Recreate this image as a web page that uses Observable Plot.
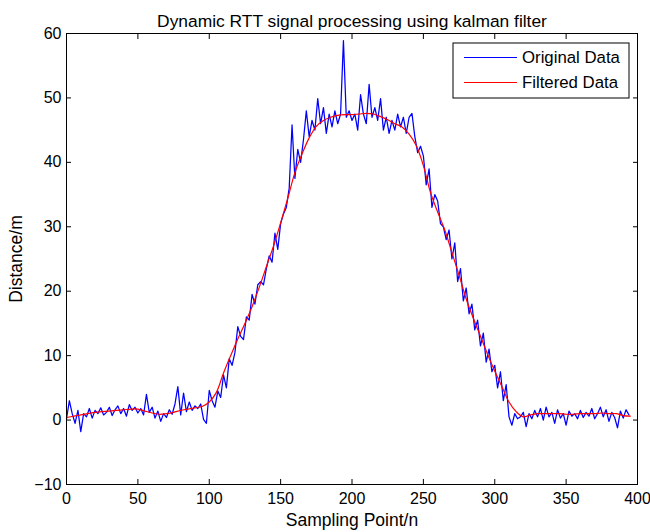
<!DOCTYPE html>
<html>
<head>
<meta charset="utf-8">
<script src="https://cdn.jsdelivr.net/npm/d3@7"></script>
<script src="https://cdn.jsdelivr.net/npm/@observablehq/plot@0.6"></script>
<style>
  html, body { margin: 0; padding: 0; background: #fff; }
  #chart { position: relative; width: 650px; height: 532px; }
  svg { font-family: "Liberation Sans", Arial, Helvetica, sans-serif; }
</style>
</head>
<body>
<div id="chart"></div>
<script>
// ---- Data ----
const title = "Dynamic RTT signal processing using kalman filter";
const xLabel = "Sampling Point/n";
const yLabel = "Distance/m";
const seriesNames = ["Original Data", "Filtered Data"];
const xTicks = [0, 50, 100, 150, 200, 250, 300, 350, 400];
const yTicks = [-10, 0, 10, 20, 30, 40, 50, 60];

// Original (noisy) samples, one value every 2 sampling points starting at 0
const originalStart = 0, originalStep = 2;
const originalValues = [
  0.2, 3.0, 1.0, -0.5, 1.5, -1.8, 1.0, 0.5, 1.8, 0.3,
  1.5, 1.0, 1.9, 0.8, 1.2, 2.0, 0.7, 1.6, 2.2, 1.0,
  1.8, 0.6, 2.4, 1.5, 2.0, 1.1, 1.8, 0.8, 4.0, 1.2,
  2.0, 0.3, 1.4, -0.2, 1.0, 0.4, 1.6, 0.9, 2.5, 5.2,
  0.8, 4.2, 1.3, 2.8, 1.5, 2.2, 1.8, 2.5, 0.1, -0.5,
  4.6, 3.0, 2.0, 4.5, 3.5, 7.0, 5.0, 9.5, 8.5, 10.5,
  14.5, 13.0, 12.5, 16.0, 15.5, 19.5, 18.0, 21.0, 21.5, 21.0,
  23.5, 25.5, 24.5, 29.0, 26.5, 30.5, 32.0, 33.0, 36.0, 45.8,
  37.5, 42.0, 40.0, 43.5, 48.0, 44.0, 46.5, 45.0, 49.9, 46.0,
  48.5, 44.5, 47.5, 45.5, 48.0, 46.0, 47.5, 58.9, 47.0, 48.0,
  46.5, 47.5, 45.0, 50.5, 47.5, 46.0, 52.1, 47.0, 48.5, 46.5,
  49.9, 45.0, 47.0, 44.5, 46.5, 45.0, 47.5, 45.5, 47.0, 44.5,
  47.0, 47.6, 44.0, 41.5, 42.5, 41.0, 36.5, 39.0, 33.0, 35.0,
  34.0, 30.5, 30.0, 28.0, 29.5, 25.0, 27.5, 21.5, 23.5, 18.5,
  20.5, 16.5, 18.0, 14.0, 15.5, 11.5, 13.5, 9.0, 11.0, 7.5,
  8.5, 5.0, 7.5, 3.0, 5.5, 0.5, -0.8, 1.0, 0.2, 0.5,
  1.2, -1.0, 1.0, 0.2, 1.5, 0.5, 1.8, 0.0, 2.0, 0.5,
  1.2, -0.5, 1.6, 0.3, 1.0, -0.8, 1.4, 0.6, 1.0, 0.2,
  1.5, 0.4, 1.2, 0.6, 1.8, 0.2, 1.0, 2.0, 0.5, 1.6,
  -0.2, 1.2, 0.4, -1.2, 1.4, 0.3, 1.6, 0.8
];

// Kalman-filtered curve, one value every 5 sampling points starting at 0
const filteredStart = 0, filteredStep = 5;
const filteredValues = [
  0.4, 0.6, 0.8, 1.0, 1.2, 1.3, 1.4, 1.5, 1.6, 1.7,
  1.7, 1.4, 1.1, 0.9, 1.0, 1.2, 1.5, 1.7, 1.9, 2.1,
  2.8, 4.3, 7.3, 10.0, 12.6, 15.0, 17.6, 20.6, 23.8, 27.0,
  30.6, 34.4, 38.4, 41.3, 43.8, 45.6, 46.5, 47.0, 47.3, 47.4,
  47.4, 47.5, 47.6, 47.5, 47.1, 46.6, 46.0, 45.5, 44.4, 42.6,
  39.5, 35.3, 32.3, 29.5, 26.0, 22.5, 18.8, 15.8, 13.0, 10.2,
  7.6, 5.2, 2.8, 1.3, 0.5, 0.8, 1.0, 1.0, 1.0, 1.0,
  0.9, 0.9, 1.0, 1.0, 1.0, 1.1, 1.0, 1.0, 0.7, 0.6
];
const seriesColors = ["#0000ff", "#ff0000"];

// ---- Build tables ----
const original = originalValues.map((v, i) => ({x: originalStart + i * originalStep, y: v}));
const filtered = filteredValues.map((v, i) => ({x: filteredStart + i * filteredStep, y: v}));

const font = '"Liberation Sans", Arial, Helvetica, sans-serif';

const chart = Plot.plot({
  width: 650,
  height: 532,
  marginLeft: 66,
  marginRight: 13,
  marginTop: 33,
  marginBottom: 48,
  style: {fontFamily: font, fontSize: "16px", color: "#000", background: "#fff"},
  x: {domain: [0, 400], label: null},
  y: {domain: [-10, 60], label: null},
  marks: [
    Plot.line(original, {x: "x", y: "y", stroke: seriesColors[0], strokeWidth: 1.25}),
    Plot.line(filtered, {x: "x", y: "y", stroke: seriesColors[1], strokeWidth: 1.2, curve: "catmull-rom"}),
    Plot.frame({stroke: "#000", strokeWidth: 1}),
    // inward ticks, all four sides
    Plot.axisX(xTicks, {anchor: "bottom", tickSize: 5, dy: -5, text: null, stroke: "#000"}),
    Plot.axisX(xTicks, {anchor: "top", tickSize: 5, dy: 5, text: null, stroke: "#000"}),
    Plot.axisY(yTicks, {anchor: "left", tickSize: 5, dx: 5, text: null, stroke: "#000"}),
    Plot.axisY(yTicks, {anchor: "right", tickSize: 5, dx: -5, text: null, stroke: "#000"}),
    // tick labels
    Plot.axisX(xTicks, {anchor: "bottom", tickSize: 0, tickPadding: 8, label: null, fill: "#000", fontSize: 16}),
    Plot.axisY(yTicks, {anchor: "left", tickSize: 0, tickPadding: 5, label: null, fill: "#000", fontSize: 16}),
    // axis titles and chart title
    Plot.axisX(xTicks, {anchor: "bottom", tickSize: 0, text: null, label: xLabel, labelAnchor: "center", labelArrow: "none", labelOffset: 41, fill: "#000", fontSize: 17.5}),
    Plot.axisY(yTicks, {anchor: "left", tickSize: 0, text: null, label: yLabel, labelAnchor: "center", labelArrow: "none", labelOffset: 57, fill: "#000", fontSize: 17.5}),
    Plot.text([title], {frameAnchor: "top", dy: -19, fill: "#000", fontSize: 17.4})
  ]
});

document.getElementById("chart").appendChild(chart);

// ---- Legend box inside the plot (top-right), MATLAB style ----
const svg = d3.select(chart);
const lg = svg.append("g").attr("transform", "translate(453,43)");
lg.append("rect").attr("width", 176).attr("height", 55)
  .attr("fill", "#fff").attr("stroke", "#000").attr("stroke-width", 1);
seriesNames.forEach((name, i) => {
  const yy = 14.5 + i * 25;
  lg.append("line").attr("x1", 11).attr("x2", 64).attr("y1", yy).attr("y2", yy)
    .attr("stroke", seriesColors[i]).attr("stroke-width", 1);
  lg.append("text").attr("x", 69).attr("y", yy).attr("dy", "0.35em")
    .attr("text-anchor", "start")
    .attr("font-family", font).attr("font-size", 16.8).attr("fill", "#000").text(name);
});
</script>
</body>
</html>
